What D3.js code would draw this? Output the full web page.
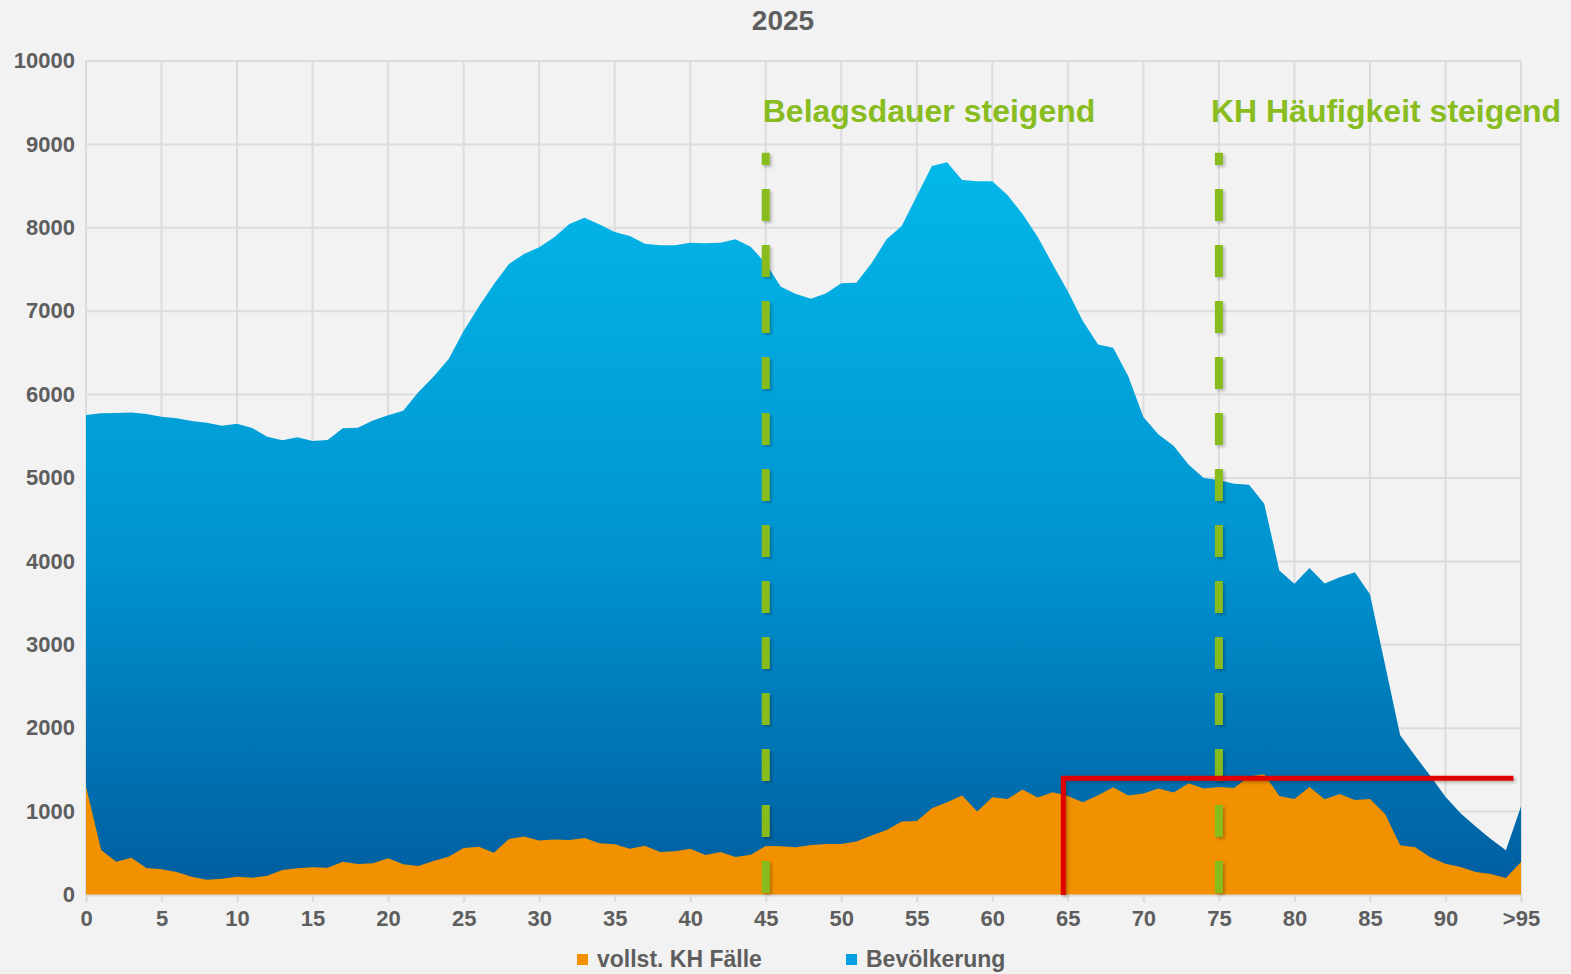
<!DOCTYPE html>
<html>
<head>
<meta charset="utf-8">
<script src="https://cdn.jsdelivr.net/npm/d3@7"></script>
<style>
  html, body { margin: 0; padding: 0; background: #F2F2F2; }
  svg { display: block; font-family: "Liberation Sans", Arial, sans-serif; }
</style>
</head>
<body>
<svg id="chart" width="1571" height="974"></svg>
<script>
// ---- DATA ----
const title = "2025";
const ages = d3.range(0, 96); // age categories 0 .. >95
const bevoelkerung = [
  5755, 5775, 5780, 5785, 5767, 5735, 5715, 5683, 5663, 5627,
  5651, 5600, 5496, 5452, 5488, 5444, 5456, 5596, 5604, 5688,
  5751, 5807, 6027, 6215, 6423, 6763, 7054, 7322, 7566, 7686,
  7766, 7886, 8045, 8121, 8041, 7950, 7902, 7810, 7790, 7790,
  7822, 7814, 7822, 7862, 7774, 7574, 7294, 7206, 7150, 7214,
  7334, 7342, 7574, 7862, 8021, 8381, 8741, 8785, 8573, 8557,
  8557, 8393, 8165, 7893, 7560, 7240, 6881, 6602, 6562, 6219,
  5731, 5522, 5388, 5159, 5000, 4975, 4930, 4920, 4692, 3891,
  3731, 3920, 3736, 3811, 3871, 3607, 2761, 1915, 1667, 1428,
  1179, 980, 821, 672, 537, 1060
];
const khFaelle = [
  1300, 540, 400, 448, 324, 308, 276, 220, 184, 196,
  220, 208, 232, 300, 320, 332, 328, 400, 372, 380,
  440, 368, 348, 408, 460, 564, 580, 508, 672, 700,
  652, 664, 660, 684, 620, 608, 556, 592, 516, 524,
  556, 480, 516, 456, 484, 588, 584, 572, 600, 612,
  612, 640, 712, 780, 880, 888, 1040, 1112, 1192, 1000,
  1172, 1152, 1264, 1168, 1232, 1188, 1112, 1196, 1292, 1192,
  1216, 1276, 1228, 1340, 1276, 1296, 1284, 1420, 1448, 1188,
  1152, 1296, 1148, 1212, 1140, 1152, 972, 596, 572, 452,
  376, 336, 276, 252, 204, 396
];
const yTicks = [0, 1000, 2000, 3000, 4000, 5000, 6000, 7000, 8000, 9000, 10000];
const xTicks = [0, 5, 10, 15, 20, 25, 30, 35, 40, 45, 50, 55, 60, 65, 70, 75, 80, 85, 90, 95];
const xTickLabels = ["0", "5", "10", "15", "20", "25", "30", "35", "40", "45", "50", "55", "60", "65", "70", "75", "80", "85", "90", ">95"];
const markerAges = [45, 75];
const markerTop = 8900;
const markerLabels = ["Belagsdauer steigend", "KH Häufigkeit steigend"];
const bracketAges = [64.7, 94.5];
const bracketLevel = 1400;
const legendLabels = ["vollst. KH Fälle", "Bevölkerung"];

// ---- STYLE ----
const W = 1571, H = 974;
const margin = { left: 86, right: 50, top: 61, bottom: 79 };
const textGray = "#5E5E5E";
const gridColor = "#DCDCDC";
const orange = "#F29100";
const green = "#88BC1F";
const red = "#E00000";

const svg = d3.select("#chart");
const x = d3.scaleLinear().domain([0, 95]).range([margin.left, W - margin.right]);
const y = d3.scaleLinear().domain([0, 10000]).range([H - margin.bottom, margin.top]);

const defs = svg.append("defs");
const grad = defs.append("linearGradient")
  .attr("id", "blueGrad")
  .attr("gradientUnits", "userSpaceOnUse")
  .attr("x1", 0).attr("x2", 0)
  .attr("y1", y(8800)).attr("y2", y(0));
grad.append("stop").attr("offset", "0%").attr("stop-color", "#03B8E9");
grad.append("stop").attr("offset", "55%").attr("stop-color", "#0092CF");
grad.append("stop").attr("offset", "100%").attr("stop-color", "#005C9E");

const shadow = defs.append("filter").attr("id", "shadow")
  .attr("filterUnits", "userSpaceOnUse")
  .attr("x", 0).attr("y", 0).attr("width", W).attr("height", H);
shadow.append("feDropShadow").attr("dx", 2).attr("dy", 2)
  .attr("stdDeviation", 1.5).attr("flood-color", "#000").attr("flood-opacity", 0.25);

// Title
svg.append("text")
  .attr("x", 783).attr("y", 30)
  .attr("text-anchor", "middle")
  .attr("font-size", 28).attr("font-weight", "bold")
  .attr("fill", textGray)
  .text(title);

// Grid
const grid = svg.append("g");
grid.selectAll("line.h").data(yTicks).join("line")
  .attr("x1", x(0)).attr("x2", x(95))
  .attr("y1", d => y(d)).attr("y2", d => y(d))
  .attr("stroke", gridColor).attr("stroke-width", 2);
grid.selectAll("line.v").data(xTicks).join("line")
  .attr("x1", d => x(d)).attr("x2", d => x(d))
  .attr("y1", y(10000)).attr("y2", y(0))
  .attr("stroke", gridColor).attr("stroke-width", 2);

// Areas
const area = d3.area()
  .x((d, i) => x(ages[i]))
  .y0(y(0))
  .y1(d => y(d));
svg.append("path")
  .datum(bevoelkerung)
  .attr("d", area)
  .attr("fill", "url(#blueGrad)");

svg.append("path")
  .datum(khFaelle)
  .attr("d", area)
  .attr("fill", orange);

// X axis
const xAxis = d3.axisBottom(x)
  .tickValues(xTicks)
  .tickFormat((d, i) => xTickLabels[i])
  .tickSize(7).tickPadding(8);
const gx = svg.append("g")
  .attr("transform", `translate(0,${y(0)})`)
  .call(xAxis);
gx.select(".domain").attr("stroke", gridColor).attr("stroke-width", 2);
gx.selectAll(".tick line").attr("stroke", gridColor).attr("stroke-width", 2);
gx.selectAll(".tick text")
  .attr("font-size", 22).attr("font-weight", "bold")
  .attr("fill", textGray)
  .attr("font-family", "Liberation Sans, Arial, sans-serif");

// Y axis
const yAxis = d3.axisLeft(y)
  .tickValues(yTicks)
  .tickFormat(d => String(d))
  .tickSize(0).tickPadding(11);
const gy = svg.append("g")
  .attr("transform", `translate(${x(0)},0)`)
  .call(yAxis);
gy.select(".domain").remove();
gy.selectAll(".tick text")
  .attr("dy", "0.3em")
  .attr("font-size", 22).attr("font-weight", "bold")
  .attr("fill", textGray)
  .attr("font-family", "Liberation Sans, Arial, sans-serif");

// Green dashed markers (drawn bottom-up)
svg.selectAll("path.marker").data(markerAges).join("path")
  .attr("class", "marker")
  .attr("d", d => d3.line()([[x(d), y(0) - 2], [x(d), y(markerTop)]]))
  .attr("stroke", green).attr("stroke-width", 8)
  .attr("stroke-dasharray", "32,24")
  .attr("fill", "none")
  .attr("filter", "url(#shadow)");

svg.selectAll("text.marker").data(markerAges).join("text")
  .attr("class", "marker")
  .attr("x", (d, i) => x(d) - (i === 0 ? 3 : 8))
  .attr("y", 122)
  .attr("font-size", 32).attr("font-weight", "bold")
  .attr("fill", green)
  .text((d, i) => markerLabels[i]);

// Red bracket
svg.append("path")
  .attr("d", d3.line()([
    [x(bracketAges[0]), y(0)],
    [x(bracketAges[0]), y(bracketLevel)],
    [x(bracketAges[1]), y(bracketLevel)]
  ]))
  .attr("stroke", red).attr("stroke-width", 5)
  .attr("fill", "none")
  .attr("stroke-linejoin", "miter")
  .attr("filter", "url(#shadow)");

// Legend
const legend = svg.append("g");
const legendItems = [
  { label: legendLabels[0], color: orange, x: 577 },
  { label: legendLabels[1], color: "#009FE0", x: 846 }
];
legend.selectAll("rect").data(legendItems).join("rect")
  .attr("x", d => d.x).attr("y", 954)
  .attr("width", 11).attr("height", 11)
  .attr("fill", d => d.color);
legend.selectAll("text").data(legendItems).join("text")
  .attr("x", d => d.x + 20).attr("y", 967)
  .attr("font-size", 23).attr("font-weight", "bold")
  .attr("fill", textGray)
  .text(d => d.label);
</script>
</body>
</html>
